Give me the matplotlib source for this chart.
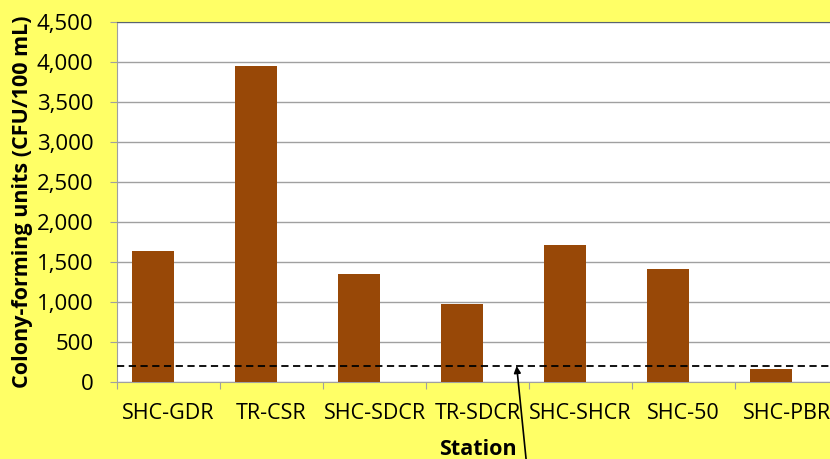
import matplotlib.pyplot as plt
from matplotlib.ticker import FuncFormatter, MultipleLocator

stations = ["SHC-GDR", "TR-CSR", "SHC-SDCR", "TR-SDCR", "SHC-SHCR", "SHC-50", "SHC-PBR"]
cfu = [1640, 3950, 1350, 980, 1710, 1410, 160]
threshold = 200

plt.rcParams['font.family'] = ['Open Sans', 'DejaVu Sans']

fig = plt.figure(figsize=(8.3, 4.59), dpi=100, facecolor='#FFFF66')
# plot area runs slightly past the right edge of the figure
ax = fig.add_axes([117 / 830, 1 - 382 / 459, 721 / 830, 360 / 459])
ax.set_facecolor('white')

x = list(range(len(stations)))
# bars sit a little left of the category centre
ax.bar([i - 0.15 for i in x], cfu, width=0.41, color='#984807', zorder=3)
ax.axhline(threshold, color='black', linestyle=(0, (4, 2.5)), linewidth=1.3, zorder=4)

ax.set_xlim(-0.5, len(stations) - 0.5)
ax.set_ylim(0, 4500)
ax.yaxis.set_major_locator(MultipleLocator(500))
ax.yaxis.set_major_formatter(FuncFormatter(lambda v, p: f"{int(v):,}"))
ax.grid(axis='y', color='#A0A0A0', linewidth=1, zorder=0)

ax.set_xticks([i - 0.5 for i in x])
ax.set_xticklabels([])
ax.set_xticks(x, minor=True)
ax.set_xticklabels(stations, minor=True)
ax.tick_params(axis='x', which='major', length=5, color='#A0A0A0', direction='out')
ax.tick_params(axis='x', which='minor', length=0, pad=15, labelsize=15.5)
ax.tick_params(axis='y', length=5, color='#A0A0A0', labelsize=16, pad=12)

ax.spines['right'].set_visible(False)
ax.spines['top'].set_color('#5A6470')
for side in ['left', 'bottom']:
    ax.spines[side].set_color('#A0A0A0')

ax.set_ylabel("Colony-forming units (CFU/100 mL)", fontsize=15.5, fontweight='bold')
ax.yaxis.set_label_coords(-0.116, 0.5)
ax.set_xlabel("Station", fontsize=15.5, fontweight='bold', labelpad=11)

ax.annotate("", xy=(3.38, threshold), xycoords='data',
            xytext=(527 / 830, -0.02), textcoords='figure fraction',
            arrowprops=dict(arrowstyle='-|>', color='black', lw=1.2,
                            mutation_scale=10, shrinkA=0, shrinkB=0),
            annotation_clip=False, zorder=5)

fig.savefig('out.png', dpi=100, facecolor=fig.get_facecolor())
